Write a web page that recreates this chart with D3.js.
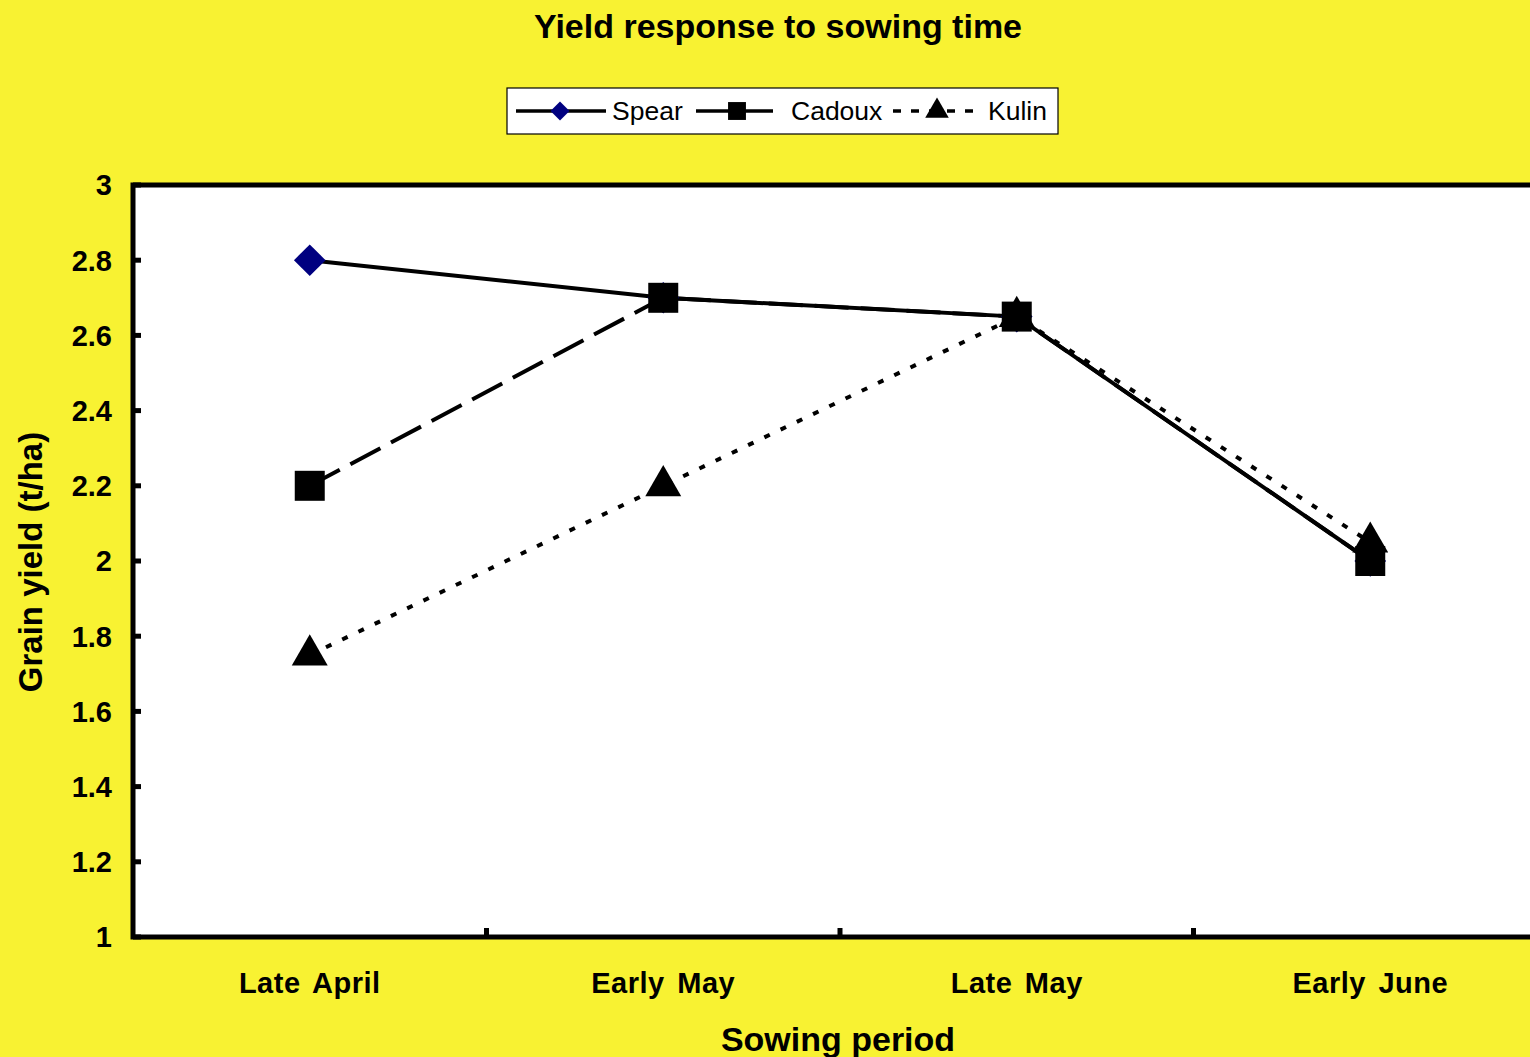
<!DOCTYPE html>
<html><head><meta charset="utf-8">
<script src="https://cdn.jsdelivr.net/npm/d3@7"></script>
<style>body{margin:0;background:#f8f232;} svg{display:block;font-family:"Liberation Sans",Arial,sans-serif;}</style>
</head><body>
<script>
const categories = ["Late April","Early May","Late May","Early June"];
const spear = [2.8, 2.7, 2.65, 2.0];
const cadoux = [2.2, 2.7, 2.65, 2.0];
const kulin = [1.75, 2.2, 2.65, 2.05];
const yTicks = [1,1.2,1.4,1.6,1.8,2,2.2,2.4,2.6,2.8,3];
const seriesNames = ["Spear","Cadoux","Kulin"];

const W=1530,H=1057;
const svg=d3.select("body").append("svg").attr("width",W).attr("height",H);
svg.append("rect").attr("width",W).attr("height",H).attr("fill","#f8f232");

const pLeft=133, pTop=185, pBottom=937, bandW=353.5;
const x=d3.scaleBand().domain(categories).range([pLeft,pLeft+4*bandW]);
const y=d3.scaleLinear().domain([1,3]).range([pBottom,pTop]);
const cx=c=>x(c)+x.bandwidth()/2;

svg.append("rect").attr("x",pLeft).attr("y",pTop).attr("width",W-pLeft+20).attr("height",pBottom-pTop).attr("fill","#fff").attr("stroke","#000").attr("stroke-width",5);

// y axis ticks and labels
const ya=svg.append("g");
yTicks.forEach(t=>{
  ya.append("line").attr("x1",pLeft).attr("x2",pLeft+8).attr("y1",y(t)).attr("y2",y(t)).attr("stroke","#000").attr("stroke-width",5);
  ya.append("text").attr("x",112).attr("y",y(t)).attr("dy","0.36em").attr("text-anchor","end")
    .attr("font-size",29).attr("font-weight","bold").text(d3.format("~g")(t));
});
// x ticks between categories
categories.slice(1).forEach(c=>{
  svg.append("line").attr("x1",x(c)).attr("x2",x(c)).attr("y1",pBottom).attr("y2",pBottom-9).attr("stroke","#000").attr("stroke-width",5);
});
categories.forEach(c=>{
  svg.append("text").attr("x",cx(c)).attr("y",993).attr("text-anchor","middle").attr("font-size",29)
    .attr("font-weight","bold").attr("letter-spacing","0.5px").attr("word-spacing","4px").text(c);
});

svg.append("text").attr("x",778).attr("y",38).attr("text-anchor","middle").attr("font-size",34).attr("font-weight","bold").text("Yield response to sowing time");
svg.append("text").attr("x",838).attr("y",1051).attr("text-anchor","middle").attr("font-size",34).attr("font-weight","bold").text("Sowing period");
svg.append("text").attr("transform","translate(42,562) rotate(-90)").attr("text-anchor","middle").attr("font-size",33).attr("font-weight","bold").text("Grain yield (t/ha)");

const line=d3.line().x((d,i)=>cx(categories[i])).y(d=>y(d));
const styles=[
  {data:spear,dash:null,sym:d3.symbolSquare,size:500,fill:"#000080",rot:45},
  {data:cadoux,dash:"34,12",sym:d3.symbolSquare,size:900,fill:"#000",rot:0},
  {data:kulin,dash:"6,12",sym:d3.symbolTriangle,size:560,fill:"#000",rot:0}
];
styles.forEach(s=>{
  svg.append("path").attr("d",line(s.data)).attr("fill","none").attr("stroke","#000").attr("stroke-width",4).attr("stroke-dasharray",s.dash);
});
styles.forEach(s=>{
  s.data.forEach((v,i)=>{
    svg.append("path").attr("d",d3.symbol(s.sym,s.size)()).attr("transform",`translate(${cx(categories[i])},${y(v)}) rotate(${s.rot})`)
      .attr("fill",s.fill);
  });
});

// legend
const lg=svg.append("g");
lg.append("rect").attr("x",507).attr("y",88).attr("width",551).attr("height",46).attr("fill","#fff").attr("stroke","#000").attr("stroke-width",1.2);
const items=[
  {x1:516,x2:606,mx:560,tx:612,dash:null,sym:d3.symbolSquare,size:180,fill:"#000080",rot:45},
  {x1:696,x2:773,mx:737,tx:791,dash:null,sym:d3.symbolSquare,size:320,fill:"#000",rot:0},
  {x1:893,x2:980,mx:937,tx:988,dash:"8,10",sym:d3.symbolTriangle,size:240,fill:"#000",rot:0}
];
items.forEach((it,i)=>{
  lg.append("line").attr("x1",it.x1).attr("x2",it.x2).attr("y1",111).attr("y2",111).attr("stroke","#000").attr("stroke-width",3.5).attr("stroke-dasharray",it.dash);
  lg.append("path").attr("d",d3.symbol(it.sym,it.size)()).attr("transform",`translate(${it.mx},111) rotate(${it.rot})`).attr("fill",it.fill);
  lg.append("text").attr("x",it.tx).attr("y",111).attr("dy","0.35em").attr("font-size",26.5).text(seriesNames[i]);
});
</script>
</body></html>
